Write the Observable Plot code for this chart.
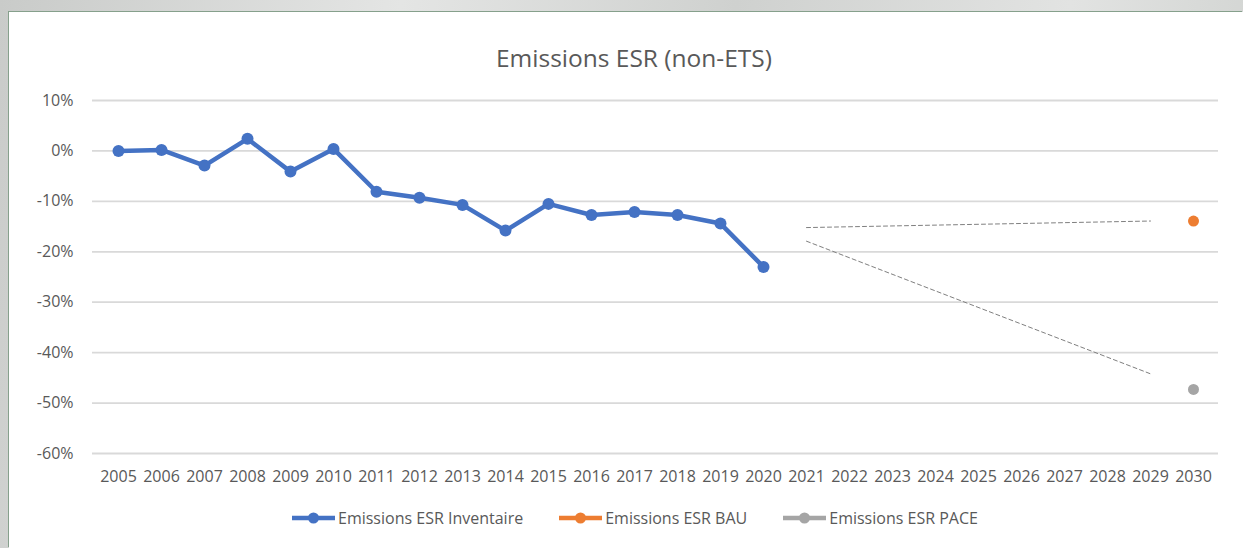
<!DOCTYPE html>
<html><head><meta charset="utf-8">
<script src="https://cdn.jsdelivr.net/npm/d3@7"></script>
<script src="https://cdn.jsdelivr.net/npm/@observablehq/plot@0.6"></script>
<style>
body{margin:0;width:1243px;height:548px;overflow:hidden;position:relative;
  background:linear-gradient(100deg,#c9cbc9 0%,#e4e5e4 30%,#cfd1cf 55%,#e2e3e2 80%,#cdd0cd 100%);
  font-family:"Open Sans",sans-serif;}
#panel{position:absolute;left:9px;top:12px;width:1234px;height:536px;background:#fff;box-shadow:-1px -1px 0 #86a08c;}
#title{position:absolute;top:31px;left:0;width:1250px;text-align:center;font-size:24.5px;line-height:30px;color:#595959;}
#chart{position:absolute;left:0;top:68px;}
#legend{position:absolute;top:495px;left:283px;display:flex;align-items:center;font-size:16px;line-height:22px;color:#595959;white-space:nowrap;}
.item{display:flex;align-items:center;margin-right:36px;}
.item svg{margin-right:3px;}
</style></head>
<body>
<div id="panel">
  <div id="title">Emissions ESR (non-ETS)</div>
  <div id="chart"></div>
  <div id="legend"></div>
</div>
<script>
const years = ["2005","2006","2007","2008","2009","2010","2011","2012","2013","2014","2015","2016","2017","2018","2019","2020","2021","2022","2023","2024","2025","2026","2027","2028","2029","2030"];
const yTicks = [10, 0, -10, -20, -30, -40, -50, -60];
const inventaireYears = ["2005","2006","2007","2008","2009","2010","2011","2012","2013","2014","2015","2016","2017","2018","2019","2020"];
const inventaireValues = [0, 0.2, -2.9, 2.4, -4.1, 0.4, -8.1, -9.3, -10.7, -15.8, -10.5, -12.7, -12.1, -12.7, -14.4, -23.0];
const bauYears = ["2030"];
const bauValues = [-13.9];
const paceYears = ["2030"];
const paceValues = [-47.3];
// dashed trajectory annotations
const bauTrendYears = ["2021","2029"];
const bauTrendValues = [-15.2, -13.9];
const paceTrendYears = ["2021","2029"];
const paceTrendValues = [-17.9, -44.2];

const seriesNames = ["Emissions ESR Inventaire","Emissions ESR BAU","Emissions ESR PACE"];
const seriesColors = ["#4472c4","#ed7d31","#a5a5a5"];

const zip = (xs, vs) => xs.map((x, i) => ({year: x, value: vs[i]}));
const inv = zip(inventaireYears, inventaireValues);
const bau = zip(bauYears, bauValues);
const pace = zip(paceYears, paceValues);
const bauTrend = zip(bauTrendYears, bauTrendValues);
const paceTrend = zip(paceTrendYears, paceTrendValues);

const chart = Plot.plot({
  width: 1234, height: 410,
  marginLeft: 83, marginRight: 25, marginTop: 20, marginBottom: 37,
  style: {fontFamily: '"Open Sans", sans-serif', fontSize: "16px", color: "#595959", background: "transparent"},
  x: {type: "point", domain: years, padding: 0.5, label: null},
  y: {domain: [-60, 10], label: null},
  marks: [
    Plot.ruleY(yTicks, {stroke: "#d9d9d9", strokeWidth: 1.8}),
    Plot.axisX({tickSize: 0, tickPadding: 17, fill: "#595959", fontSize: 16}),
    Plot.axisY({ticks: yTicks, tickSize: 0, tickPadding: 19, tickFormat: d => d + "%", fill: "#595959", fontSize: 16}),
    Plot.line(bauTrend, {x: "year", y: "value", stroke: "#7f7f7f", strokeWidth: 1, strokeDasharray: "4,3"}),
    Plot.line(paceTrend, {x: "year", y: "value", stroke: "#7f7f7f", strokeWidth: 1, strokeDasharray: "4,3"}),
    Plot.line(inv, {x: "year", y: "value", stroke: seriesColors[0], strokeWidth: 4.5, strokeLinejoin: "round"}),
    Plot.dot(inv, {x: "year", y: "value", fill: seriesColors[0], r: 6}),
    Plot.dot(bau, {x: "year", y: "value", fill: seriesColors[1], r: 5.5}),
    Plot.dot(pace, {x: "year", y: "value", fill: seriesColors[2], r: 5.5})
  ]
});
document.getElementById("chart").appendChild(chart);

const legend = document.getElementById("legend");
seriesNames.forEach((name, i) => {
  const item = document.createElement("div");
  item.className = "item";
  item.innerHTML = `<svg width="43" height="14"><line x1="0" x2="43" y1="7" y2="7" stroke="${seriesColors[i]}" stroke-width="4.5"/><circle cx="21.5" cy="7" r="5.5" fill="${seriesColors[i]}"/></svg><span>${name}</span>`;
  legend.appendChild(item);
});
</script>
</body></html>
